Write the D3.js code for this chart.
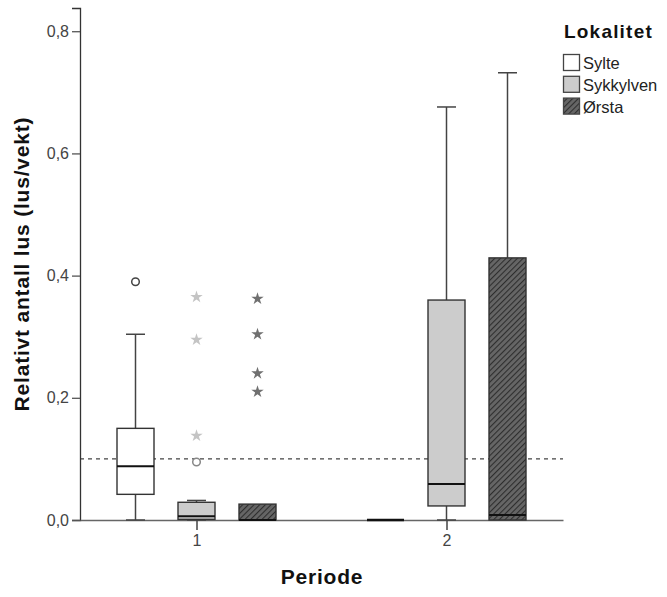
<!DOCTYPE html>
<html>
<head>
<meta charset="utf-8">
<script src="https://cdn.jsdelivr.net/npm/d3@7"></script>
<style>
  body { margin: 0; background: white; }
  svg { font-family: "Liberation Sans", Arial, sans-serif; }
</style>
</head>
<body>
<svg id="chart" width="667" height="597"></svg>
<script>
// categories
const perioder = ['1', '2'];
const lokaliteter = ['Sylte', 'Sykkylven', 'Ørsta'];
const yTicks = [0, 0.2, 0.4, 0.6, 0.8];

// box statistics, rows = periode, columns = lokalitet
const whiskerLow  = [[0, 0, 0], [0, 0, 0]];
const q1Values    = [[0.042, 0.001, 0], [0, 0.023, 0]];
const medians     = [[0.088, 0.006, 0], [0, 0.059, 0.008]];
const q3Values    = [[0.150, 0.029, 0.026], [0, 0.360, 0.429]];
const whiskerHigh = [[0.304, 0.032, 0.026], [0, 0.676, 0.732]];

// outliers (circles) and extremes (stars): [periode, lokalitet, value]
const outliers = [['1', 'Sylte', 0.39], ['1', 'Sykkylven', 0.095]];
const extremes = [
  ['1', 'Sykkylven', 0.365], ['1', 'Sykkylven', 0.295], ['1', 'Sykkylven', 0.138],
  ['1', 'Ørsta', 0.362], ['1', 'Ørsta', 0.304], ['1', 'Ørsta', 0.240], ['1', 'Ørsta', 0.210]
];
const refLine = 0.1;

const fills = { 'Sylte': '#ffffff', 'Sykkylven': '#cccccc', 'Ørsta': 'url(#hatch)' };
const starColor = { 'Sykkylven': '#c4c4c4', 'Ørsta': '#707070' };
const circleColor = { 'Sylte': '#444', 'Sykkylven': '#888' };

const svg = d3.select('#chart');

// hatch pattern for Ørsta
const defs = svg.append('defs');
const pat = defs.append('pattern')
  .attr('id', 'hatch')
  .attr('patternUnits', 'userSpaceOnUse')
  .attr('width', 4).attr('height', 4)
  .attr('patternTransform', 'rotate(45)');
pat.append('rect').attr('width', 4).attr('height', 4).attr('fill', '#666');
pat.append('line').attr('x1', 0).attr('y1', 0).attr('x2', 0).attr('y2', 4)
  .attr('stroke', '#2e2e2e').attr('stroke-width', 2.2);

// scales
const x = d3.scalePoint().domain(perioder).range([80, 563]).padding(0.466);
const xSub = d3.scalePoint().domain(lokaliteter).range([-61, 61]);
const y = d3.scaleLinear().domain([0, 0.838]).range([520, 8]);
const boxW = 37;
const capW = 19;

// reference line
svg.append('line')
  .attr('x1', 80).attr('x2', 563)
  .attr('y1', y(refLine)).attr('y2', y(refLine))
  .attr('stroke', '#444').attr('stroke-width', 1.3)
  .attr('stroke-dasharray', '4,4');

// Y axis
const yAxis = svg.append('g')
  .attr('transform', 'translate(80,0)')
  .call(d3.axisLeft(y).tickValues(yTicks).tickSize(8)
    .tickFormat(d => d3.format('.1f')(d).replace('.', ',')));
yAxis.select('.domain').attr('stroke', '#333').attr('stroke-width', 1.3);
yAxis.selectAll('.tick line').attr('stroke', '#555').attr('stroke-width', 1.3);
yAxis.selectAll('.tick text').attr('fill', '#444').style('font-size', '16px').attr('x', -11);

// X axis (boxes drawn on top)
const xAxis = svg.append('g')
  .attr('transform', 'translate(0,520)')
  .call(d3.axisBottom(x).tickSize(10).tickSizeOuter(0));
xAxis.select('.domain').attr('stroke', '#666').attr('stroke-width', 1.5);
xAxis.selectAll('.tick line').attr('stroke', '#444').attr('stroke-width', 1.5);
xAxis.selectAll('.tick text').attr('fill', '#444').style('font-size', '16px').attr('y', 15);

// boxes
perioder.forEach((p, pi) => {
  lokaliteter.forEach((lok, li) => {
    const cx = x(p) + xSub(lok);
    const lo = whiskerLow[pi][li], a = q1Values[pi][li], m = medians[pi][li],
      b = q3Values[pi][li], hi = whiskerHigh[pi][li];
    const g = svg.append('g');
    if (b === a) {
      // degenerate box: all values equal
      g.append('line')
        .attr('x1', cx - boxW / 2).attr('x2', cx + boxW / 2)
        .attr('y1', y(m)).attr('y2', y(m))
        .attr('stroke', '#111').attr('stroke-width', 2.5);
      return;
    }
    if (hi > b) {
      g.append('line').attr('x1', cx).attr('x2', cx).attr('y1', y(b)).attr('y2', y(hi))
        .attr('stroke', '#444').attr('stroke-width', 1.5);
      g.append('line').attr('x1', cx - capW / 2).attr('x2', cx + capW / 2)
        .attr('y1', y(hi)).attr('y2', y(hi)).attr('stroke', '#444').attr('stroke-width', 1.5);
    }
    if (lo < a) {
      g.append('line').attr('x1', cx).attr('x2', cx).attr('y1', y(a)).attr('y2', y(lo))
        .attr('stroke', '#444').attr('stroke-width', 1.5);
      g.append('line').attr('x1', cx - capW / 2).attr('x2', cx + capW / 2)
        .attr('y1', y(lo)).attr('y2', y(lo)).attr('stroke', '#444').attr('stroke-width', 1.5);
    }
    g.append('rect')
      .attr('x', cx - boxW / 2).attr('width', boxW)
      .attr('y', y(b)).attr('height', y(a) - y(b))
      .attr('fill', fills[lok])
      .attr('stroke', '#333').attr('stroke-width', 1.4);
    g.append('line')
      .attr('x1', cx - boxW / 2).attr('x2', cx + boxW / 2)
      .attr('y1', y(m)).attr('y2', y(m))
      .attr('stroke', '#111').attr('stroke-width', 2);
  });
});

// outliers
svg.selectAll('.outlier')
  .data(outliers)
  .enter().append('circle')
  .attr('class', 'outlier')
  .attr('cx', d => x(d[0]) + xSub(d[1]))
  .attr('cy', d => y(d[2]))
  .attr('r', 3.8)
  .attr('fill', 'white')
  .attr('stroke', d => circleColor[d[1]])
  .attr('stroke-width', 1.5);

// extremes
const star = d3.symbol().type(d3.symbolStar).size(48);
svg.selectAll('.extreme')
  .data(extremes)
  .enter().append('path')
  .attr('class', 'extreme')
  .attr('transform', d => `translate(${x(d[0]) + xSub(d[1])},${y(d[2])})`)
  .attr('d', star)
  .attr('fill', d => starColor[d[1]]);

// axis titles
svg.append('text')
  .attr('transform', 'translate(29,264) rotate(-90)')
  .attr('text-anchor', 'middle')
  .style('font-size', '21px').style('font-weight', 'bold')
  .style('letter-spacing', '0.8px')
  .attr('fill', '#111')
  .text('Relativt antall lus (lus/vekt)');

svg.append('text')
  .attr('x', 322).attr('y', 584)
  .attr('text-anchor', 'middle')
  .style('font-size', '21px').style('font-weight', 'bold')
  .style('letter-spacing', '0.8px')
  .attr('fill', '#111')
  .text('Periode');

// legend
const legend = svg.append('g').attr('transform', 'translate(563,0)');
legend.append('text')
  .attr('x', 1).attr('y', 38)
  .style('font-size', '19px').style('font-weight', 'bold')
  .style('letter-spacing', '1.2px')
  .attr('fill', '#111')
  .text('Lokalitet');
lokaliteter.forEach((lok, i) => {
  legend.append('rect')
    .attr('x', 0.5).attr('y', 54.5 + i * 21.8)
    .attr('width', 16).attr('height', 16)
    .attr('fill', fills[lok])
    .attr('stroke', '#444').attr('stroke-width', 1.3);
  legend.append('text')
    .attr('x', 20).attr('y', 69 + i * 21.8)
    .style('font-size', '16.5px')
    .attr('fill', '#222')
    .text(lok);
});
</script>
</body>
</html>
